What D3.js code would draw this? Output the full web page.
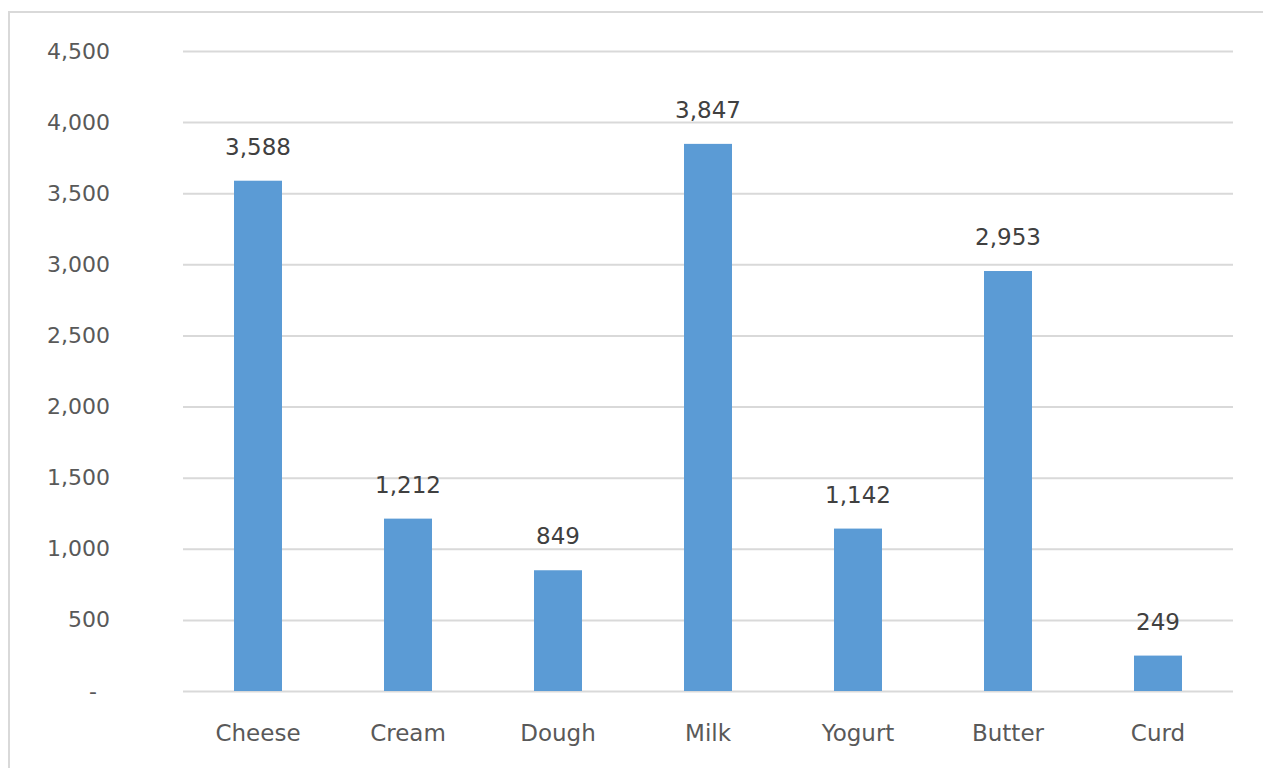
<!DOCTYPE html>
<html>
<head>
<meta charset="utf-8">
<script src="https://cdn.jsdelivr.net/npm/d3@7"></script>
<style>
  body { margin: 0; background: #fff; }
  svg { display: block; }
</style>
</head>
<body>
<svg id="chart" width="1263" height="768"></svg>
<script>
// chart data
var categories = ["Cheese", "Cream", "Dough", "Milk", "Yogurt", "Butter", "Curd"];
var values = [3588, 1212, 849, 3847, 1142, 2953, 249];
var yTicks = [0, 500, 1000, 1500, 2000, 2500, 3000, 3500, 4000, 4500];

var dimensions = {
  width: 1263,
  height: 768,
  margin: { top: 51, right: 30, bottom: 77, left: 183 },
};
dimensions.boundedWidth =
  dimensions.width - dimensions.margin.left - dimensions.margin.right;
dimensions.boundedHeight =
  dimensions.height - dimensions.margin.top - dimensions.margin.bottom;

var svg = d3.select("#chart");

// outer chart border (runs off the right/bottom edge like the picture)
svg
  .append("rect")
  .attr("x", 9)
  .attr("y", 12)
  .attr("width", 1300)
  .attr("height", 800)
  .attr("fill", "none")
  .attr("stroke", "#d9d9d9")
  .attr("stroke-width", 2);

var xScale = d3
  .scaleBand()
  .domain(categories)
  .range([0, dimensions.boundedWidth]);

var yScale = d3
  .scaleLinear()
  .domain([0, 4500])
  .range([dimensions.boundedHeight, 0]);

var bounds = svg
  .append("g")
  .attr(
    "transform",
    "translate(" + dimensions.margin.left + "," + dimensions.margin.top + ")"
  );

// gridlines + y labels via axis
var yAxis = d3
  .axisLeft(yScale)
  .tickValues(yTicks)
  .tickSize(-dimensions.boundedWidth)
  .tickPadding(73)
  .tickFormat(function (d) {
    return d === 0 ? "-" : d3.format(",")(d);
  });

var yAxisG = bounds.append("g").call(yAxis);
yAxisG.select(".domain").remove();
yAxisG.selectAll(".tick line").attr("stroke", "#d9d9d9").attr("stroke-width", 2);
yAxisG
  .selectAll(".tick text")
  .attr("fill", "#595959")
  .style("font", "22px 'DejaVu Sans'");
// excel-style dash for zero sits a bit left
yAxisG
  .selectAll(".tick text")
  .filter(function (d) {
    return d === 0;
  })
  .attr("dx", -13);

// bars
var barWidth = xScale.bandwidth() * 0.32;
bounds
  .selectAll(".bar")
  .data(values)
  .enter()
  .append("rect")
  .attr("class", "bar")
  .attr("x", function (d, i) {
    return xScale(categories[i]) + xScale.bandwidth() / 2 - barWidth / 2;
  })
  .attr("width", barWidth)
  .attr("y", function (d) {
    return yScale(d);
  })
  .attr("height", function (d) {
    return dimensions.boundedHeight - yScale(d);
  })
  .attr("fill", "#5b9bd5");

// value labels
bounds
  .selectAll(".label")
  .data(values)
  .enter()
  .append("text")
  .attr("class", "label")
  .attr("x", function (d, i) {
    return xScale(categories[i]) + xScale.bandwidth() / 2;
  })
  .attr("y", function (d) {
    return yScale(d) - 26;
  })
  .attr("text-anchor", "middle")
  .attr("fill", "#404040")
  .style("font", "23px 'DejaVu Sans'")
  .text(function (d) {
    return d3.format(",")(d);
  });

// x axis labels
var xAxis = d3.axisBottom(xScale).tickSize(0).tickPadding(34);
var xAxisG = bounds
  .append("g")
  .attr("transform", "translate(0," + dimensions.boundedHeight + ")")
  .call(xAxis);
xAxisG.select(".domain").remove();
xAxisG
  .selectAll(".tick text")
  .attr("fill", "#595959")
  .style("font", "23px 'DejaVu Sans'");
</script>
</body>
</html>
